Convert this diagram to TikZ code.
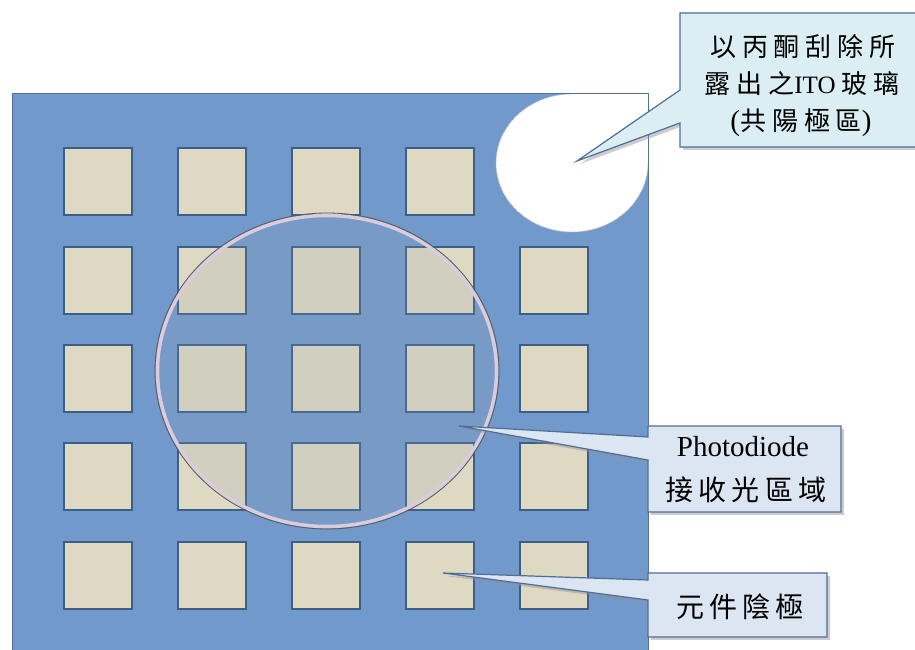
\documentclass[tikz,border=0pt]{standalone}
\usepackage{fontspec}
\setmainfont{Liberation Serif}
\newfontfamily\cjkA{Noto Sans CJK TC}[LetterSpace=23]
\newfontfamily\cjkB{Noto Sans CJK TC}[LetterSpace=18]
\newfontfamily\serifp{Liberation Serif}
\definecolor{plate}{RGB}{114,153,204}
\definecolor{plateedge}{RGB}{84,114,152}
\definecolor{padc}{RGB}{221,217,195}
\definecolor{padedge}{RGB}{60,95,138}
\definecolor{callA}{RGB}{218,238,243}
\definecolor{callB}{RGB}{220,230,242}
\definecolor{calledge}{RGB}{79,110,150}
\definecolor{ringc}{RGB}{218,204,220}
\definecolor{lensc}{RGB}{150,160,175}
\definecolor{shadowc}{RGB}{150,140,150}
\tikzset{
  padbox/.style={draw=padedge, line width=1.2pt, fill=padc, minimum width=68pt, minimum height=67pt, inner sep=0pt, outer sep=0pt},
  callshadow/.style={preaction={fill=shadowc, fill opacity=0.45, transform canvas={xshift=3pt,yshift=-3pt}}},
  calloutA/.style={fill=callA, draw=calledge, line width=1.2pt, line join=miter, callshadow},
  calloutB/.style={fill=callB, draw=calledge, line width=1.2pt, line join=miter, callshadow},
  txtA/.style={font=\cjkA\fontsize{26}{26}\selectfont, inner sep=0pt},
  txtB/.style={font=\cjkB\fontsize{28}{28}\selectfont, inner sep=0pt},
}
\begin{document}
\begin{tikzpicture}[x=1pt,y=1pt]
\useasboundingbox (0,0) rectangle (915,650);
\fill[white] (0,0) rectangle (915,650);
% substrate plate
\fill[plate] (12,-5) rectangle (648,556);
% cathode pads
\foreach \c/\cx in {1/98,2/212,3/326,4/440}{
  \node[padbox] (p1\c) at (\cx,468.5) {};
}
\foreach \r/\cy in {2/369.5,3/271.5,4/173.5,5/74.5}{
  \foreach \c/\cx in {1/98,2/212,3/326,4/440,5/554}{
    \node[padbox] (p\r\c) at (\cx,\cy) {};
  }
}
% exposed ITO (teardrop)
\coordinate (tdc) at (572,487);
\fill[white] (572,556) -- (648,556) -- (648,487) arc[start angle=0, end angle=-270, x radius=76, y radius=69] -- cycle;
\draw[gray!55, densely dotted, line width=0.9pt] (648,487) arc[start angle=0, end angle=-270, x radius=76, y radius=69];
\draw[plateedge, line width=1pt] (12,-5) rectangle (648,556);
% photodiode area
\coordinate (lens) at (327,279);
\fill[lensc, fill opacity=0.16] (lens) ellipse [x radius=172, y radius=158];
\draw[ringc, line width=3.5pt] (lens) ellipse [x radius=169.5, y radius=155.5];
\draw[black!65, line width=0.8pt] (lens) ellipse [x radius=172, y radius=158];
% callout 1
\coordinate (tipA) at (577,489);
\path[calloutA] (680,637) -- (917,637) -- (917,503) -- (680,503) -- (680,527) -- (tipA) -- (680,560) -- cycle;
\node[txtA] (a1) at (803,603) {以丙酮刮除所};
\node[txtA] (a2) at (802,566) {露出之{\serifp\fontsize{25}{25}\selectfont ITO}\hspace{6pt}玻璃};
\node[txtA] (a3) at (801,527) {{\serifp\fontsize{29}{29}\selectfont(}共陽極區{\serifp\fontsize{29}{29}\selectfont)}};
% callout 2
\coordinate (tipB) at (459,224);
\path[calloutB] (648,224) -- (841,224) -- (841,138) -- (648,138) -- (648,190) -- (tipB) -- (648,213) -- cycle;
\node[font=\fontsize{29}{29}\selectfont, inner sep=0pt] (b1) at (743,203) {Photodiode};
\node[txtB] (b2) at (746,160) {接收光區域};
% callout 3
\coordinate (tipC) at (443,77);
\path[calloutB] (648,77) -- (827,77) -- (827,13) -- (648,13) -- (648,50) -- (tipC) -- (648,70) -- cycle;
\node[txtB] (c1) at (740,43) {元件陰極};
\end{tikzpicture}
\end{document}
